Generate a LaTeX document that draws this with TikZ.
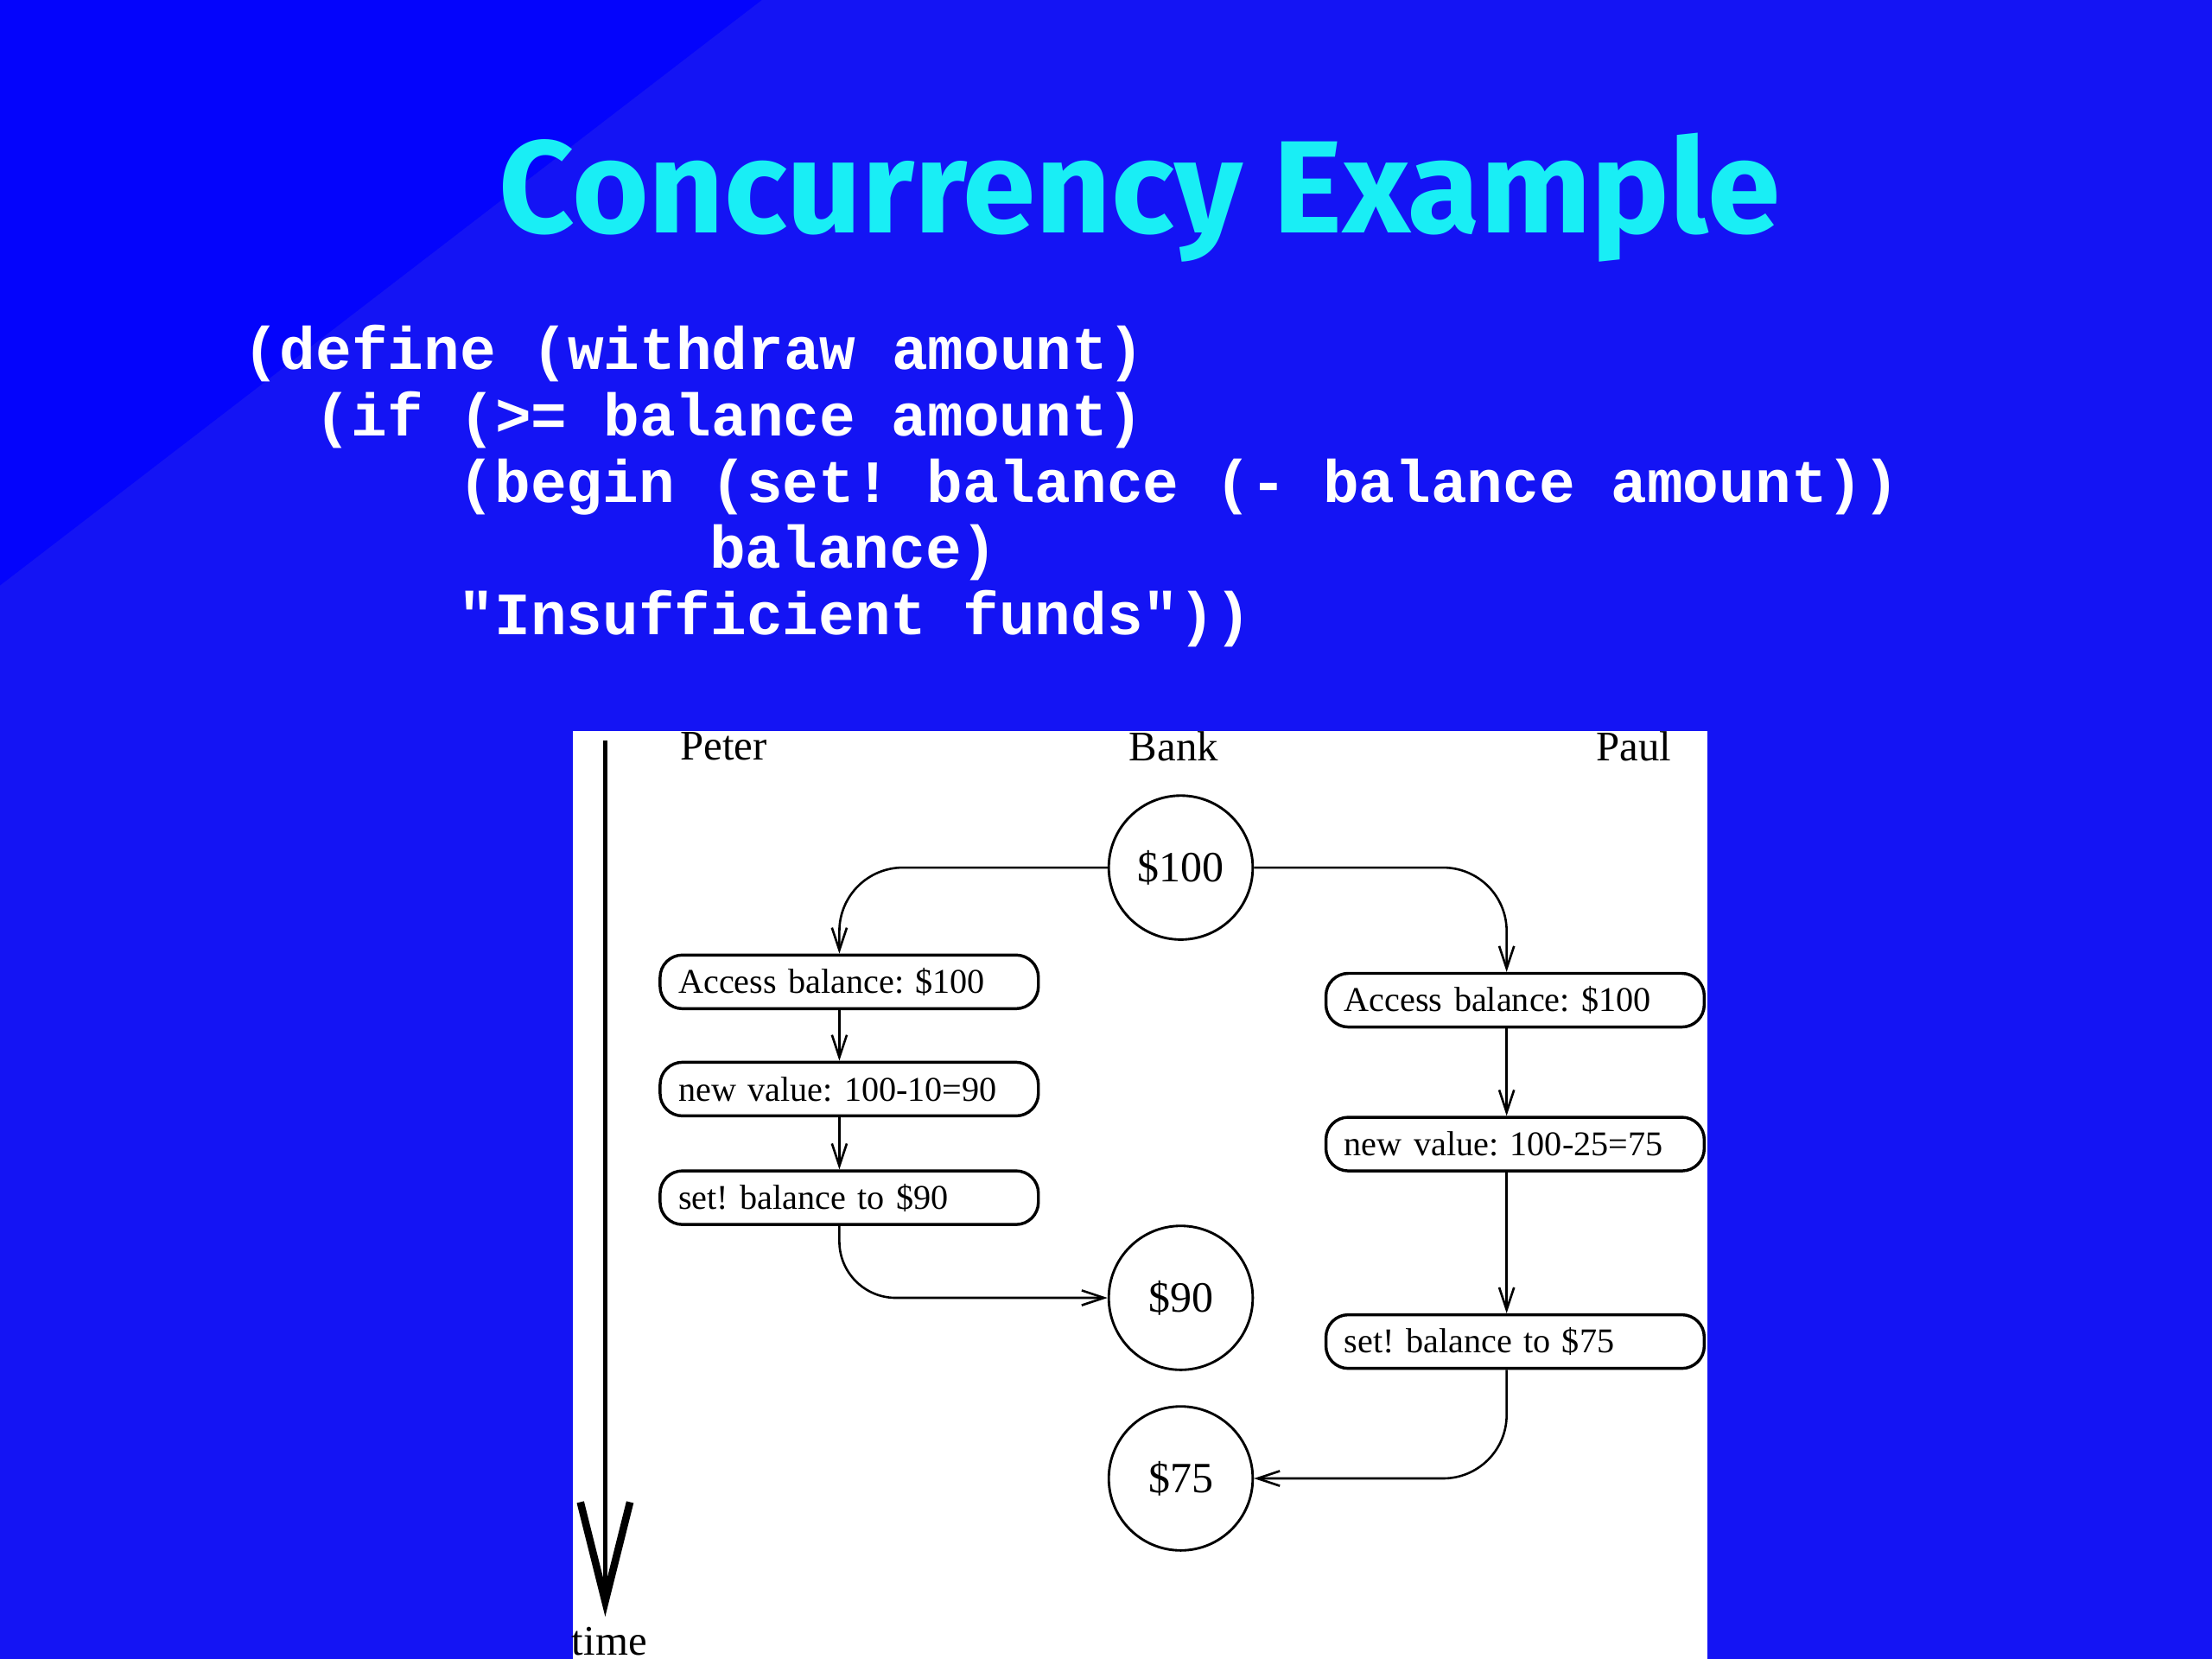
\documentclass[tikz,border=0pt]{standalone}
\usepackage{fontspec}
\setmainfont{Liberation Serif}
\newfontfamily\titlefont{Fira Sans}
\newfontfamily\codefont{Liberation Mono}
\usetikzlibrary{arrows.meta}
\definecolor{slideblue}{RGB}{20,20,244}
\definecolor{cornerblue}{RGB}{4,4,252}
\definecolor{titlecyan}{RGB}{25,238,245}
\tikzset{
  stepbox/.style={draw,line width=0.6pt,rounded corners=4.5pt,minimum height=0.38cm,
    text width=2.42cm,inner xsep=0.13cm,inner ysep=0pt,align=left,
    font=\frenchspacing\fontsize{7}{8.5}\selectfont},
  money/.style={draw,circle,line width=0.5pt,minimum size=1.02cm,inner sep=0pt,
    font=\fontsize{8.7}{10}\selectfont},
  flow/.style={line width=0.45pt,-{Straight Barb[length=4.5pt,width=3pt]}},
  who/.style={inner sep=0pt,font=\fontsize{8.5}{10}\selectfont},
  code/.style={inner sep=0pt,text=white,font=\frenchspacing\codefont\bfseries\fontsize{12.1}{14}\selectfont},
}
\begin{document}
\begin{tikzpicture}[x=0.01cm,y=-0.01cm]
    \fill[slideblue] (0,0) rectangle (1568,1176);
    \fill[cornerblue] (0,0) -- (540,0) -- (0,415) -- cycle;
    \useasboundingbox (0,0) rectangle (1568,1176);
    \node[anchor=base,text=titlecyan,font=\titlefont\bfseries\fontsize{26.5}{32}\selectfont]
      (title) at (808,165) {Concurrency Example};
    \foreach \ind/\txt [count=\i] in {0/{(define (withdraw amount)},
        2/{(if (>= balance amount)},
        6/{(begin (set! balance (- balance amount))},
        13/{balance)},
        6/{"Insufficient funds"))}}
    {
      \node[code,anchor=base west] (code\i) at ({172+25.4*\ind},{215+47*\i}) {\txt};
    }
    % the picture
    \fill[white] (406,518) rectangle (1210,1176);
    \node[who] (peter) at (513,529) {Peter};
    \node[who] (bank) at (832,529) {Bank};
    \node[who] (paul) at (1158,529) {Paul};
    \coordinate (tstart) at (429,525);
    \coordinate (tend) at (429,1146);
    \draw[line width=0.9pt,-{Straight Barb[length=20pt,width=10pt,line width=1.5pt]}] (tstart) -- (tend);
    \node[who,anchor=base] (time) at (432,1173) {time};
    \node[money] (m100) at (837,615) {\$100};
    \node[money] (m90) at (837,920) {\$90};
    \node[money] (m75) at (837,1048) {\$75};
    \node[stepbox] (pa1) at (602,696) {Access balance: \$100};
    \node[stepbox] (pa2) at (602,772) {new value: 100-10=90};
    \node[stepbox] (pa3) at (602,849) {set! balance to \$90};
    \node[stepbox] (pb1) at (1074,709) {Access balance: \$100};
    \node[stepbox] (pb2) at (1074,811) {new value: 100-25=75};
    \node[stepbox] (pb3) at (1074,951) {set! balance to \$75};
    \coordinate (pcol) at (595,0);
    \coordinate (qcol) at (1068,0);
    \draw[flow,rounded corners=0.45cm] (m100.west) -| (pa1.north -| pcol);
    \draw[flow,rounded corners=0.45cm] (m100.east) -| (pb1.north -| qcol);
    \draw[flow] (pa1.south -| pcol) -- (pa2.north -| pcol);
    \draw[flow] (pa2.south -| pcol) -- (pa3.north -| pcol);
    \draw[flow,rounded corners=0.4cm] (pa3.south -| pcol) |- (m90.west);
    \draw[flow] (pb1.south -| qcol) -- (pb2.north -| qcol);
    \draw[flow] (pb2.south -| qcol) -- (pb3.north -| qcol);
    \draw[flow,rounded corners=0.45cm] (pb3.south -| qcol) |- (m75.east);
\end{tikzpicture}
\end{document}
